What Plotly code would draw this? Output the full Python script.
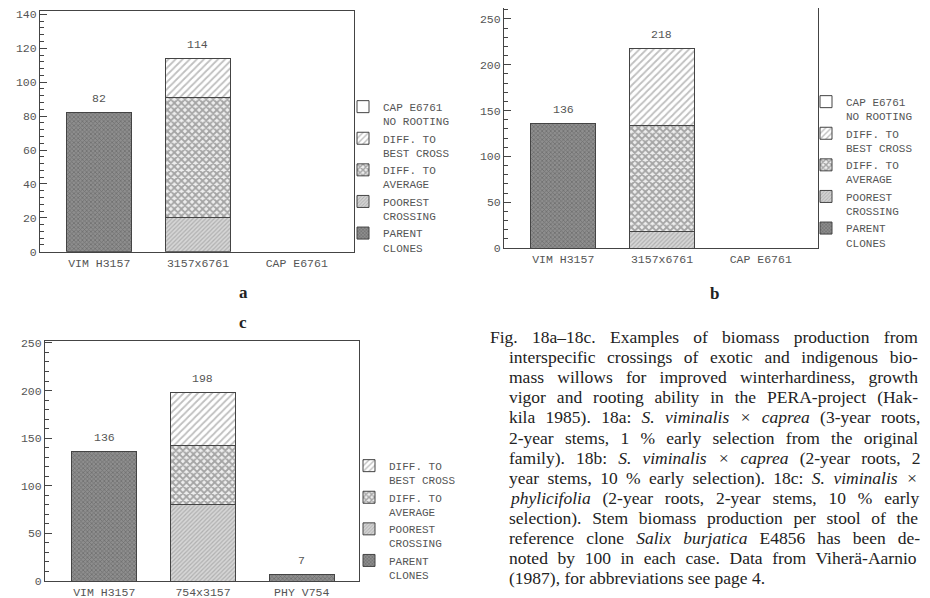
import re
import plotly.graph_objects as go

# ---------------- data ----------------
cats_a = ["VIM H3157", "3157x6761", "CAP E6761"]
a_parent = [82, None, None]
a_poorest = [None, 20, None]
a_avg = [None, 71, None]
a_best = [None, 23, None]
a_norooting = [None, None, None]
a_totals = [82, 114, None]

cats_b = ["VIM H3157", "3157x6761", "CAP E6761"]
b_parent = [136, None, None]
b_poorest = [None, 18, None]
b_avg = [None, 116, None]
b_best = [None, 84, None]
b_norooting = [None, None, None]
b_totals = [136, 218, None]

cats_c = ["VIM H3157", "754x3157", "PHY V754"]
c_parent = [136, None, 7]
c_poorest = [None, 80, None]
c_avg = [None, 62, None]
c_best = [None, 56, None]
c_totals = [136, 198, 7]

legend_names = {
    "norooting": "CAP E6761<br>NO ROOTING",
    "best": "DIFF. TO<br>BEST CROSS",
    "avg": "DIFF. TO<br>AVERAGE",
    "poorest": "POOREST<br>CROSSING",
    "parent": "PARENT<br>CLONES",
}

caption_lines = [
    "Fig. 18a–18c. Examples of biomass production from",
    "interspecific crossings of exotic and indigenous bio-",
    "mass willows for improved winterhardiness, growth",
    "vigor and rooting ability in the PERA-project (Hak-",
    "kila 1985). 18a: <i>S. viminalis × caprea</i> (3-year roots,",
    "2-year stems, 1 % early selection from the original",
    "family). 18b: <i>S. viminalis × caprea</i> (2-year roots, 2",
    "year stems, 10 % early selection). 18c: <i>S. viminalis ×</i>",
    "<i>phylicifolia</i> (2-year roots, 2-year stems, 10 % early",
    "selection). Stem biomass production per stool of the",
    "reference clone <i>Salix burjatica</i> E4856 has been de-",
    "noted by 100 in each case. Data from Viherä-Aarnio",
    "(1987), for abbreviations see page 4.",
]

# ---------------- styles ----------------
PLOT_FONT = "Liberation Mono"
TXT = "#555555"
EDGE = "#444444"
styles = {
    "parent": dict(color="#808080", pattern=dict(shape="x", size=3, solidity=0.45, fgcolor="#505050", bgcolor="#8e8e8e")),
    "poorest": dict(color="#c4c4c4", pattern=dict(shape="/", size=3, solidity=0.4, fgcolor="#8a8a8a", bgcolor="#d6d6d6")),
    "avg": dict(color="#a0a0a0", pattern=dict(shape="x", size=5, solidity=0.6, fgcolor="#5a5a5a", bgcolor="#eeeeee")),
    "best": dict(color="#e0e0e0", pattern=dict(shape="/", size=5, solidity=0.35, fgcolor="#808080", bgcolor="#ffffff")),
    "norooting": dict(color="#ffffff", pattern=dict(shape="")),
}

fig = go.Figure()

def add_panel(cats, series, totals, xa, ya, legend):
    for key, vals in series:
        st = styles[key]
        fig.add_trace(go.Bar(
            x=cats, y=vals, name=legend_names[key], legend=legend,
            xaxis=xa, yaxis=ya, width=0.66,
            marker=dict(color=st["color"], pattern=st["pattern"],
                        line=dict(color=EDGE, width=1)),
            hoverinfo="skip",
        ))
    for c, t in zip(cats, totals):
        if t is None:
            continue
        fig.add_annotation(x=c, y=t, xref=xa, yref=ya, text=str(t), showarrow=False,
                           yanchor="middle", yshift=14,
                           font=dict(family=PLOT_FONT, size=11.5, color=TXT))

add_panel(cats_a, [("parent", a_parent), ("poorest", a_poorest), ("avg", a_avg),
                   ("best", a_best), ("norooting", a_norooting)], a_totals, "x", "y", "legend")
add_panel(cats_b, [("parent", b_parent), ("poorest", b_poorest), ("avg", b_avg),
                   ("best", b_best), ("norooting", b_norooting)], b_totals, "x2", "y2", "legend2")
add_panel(cats_c, [("parent", c_parent), ("poorest", c_poorest), ("avg", c_avg),
                   ("best", c_best)], c_totals, "x3", "y3", "legend3")

# page body has an 8px margin: lay out in window pixels, offset by it
OFF = 8
W, H = 930 - OFF, 598 - OFF
def px(xp): return (xp - OFF) / W
def py(yp): return 1 - (yp - OFF) / H

def xaxis(domain, anchor):
    return dict(domain=domain, anchor=anchor, range=[-0.6, 2.58], showline=True, mirror=True,
                linecolor=EDGE, linewidth=1, ticks="", showgrid=False, zeroline=False,
                automargin=False,
                tickfont=dict(family=PLOT_FONT, size=11.5, color=TXT), fixedrange=True)

def yaxis(domain, anchor, rng, dtick, minor):
    return dict(domain=domain, anchor=anchor, range=rng, showline=True, mirror=True,
                linecolor=EDGE, linewidth=1, ticks="inside", ticklen=7, tickcolor=EDGE,
                dtick=dtick, tick0=0, showgrid=False, zeroline=False, automargin=False,
                minor=dict(dtick=minor, ticks="inside", ticklen=4, tickcolor=EDGE, showgrid=False),
                tickfont=dict(family=PLOT_FONT, size=11.5, color=TXT), fixedrange=True)

leg_common = dict(font=dict(family=PLOT_FONT, size=11, color=TXT), bgcolor="rgba(0,0,0,0)",
                  traceorder="reversed", valign="top", xanchor="left", yanchor="top",
                  itemclick=False, itemdoubleclick=False, tracegroupgap=0)

fig.update_layout(
    width=W, height=H, margin=dict(l=0, r=0, t=0, b=0, autoexpand=False),
    paper_bgcolor="white", plot_bgcolor="white", barmode="stack",
    xaxis=xaxis([px(40), px(354)], "y"),
    yaxis=yaxis([py(251.7), py(11)], "x", [0, 142], 20, 4),
    xaxis2=xaxis([px(504), px(818)], "y2"),
    yaxis2=yaxis([py(248), py(8)], "x2", [0, 262], 50, 10),
    xaxis3=xaxis([px(45), px(359)], "y3"),
    yaxis3=yaxis([py(581), py(341)], "x3", [0, 252], 50, 10),
    legend=dict(x=px(343), y=py(93), **leg_common),
    legend2=dict(x=px(806), y=py(88), **leg_common),
    legend3=dict(x=px(349), y=py(452), **leg_common),
)

# panel letters
for letter, xp, yp in [("a", 243, 292), ("b", 714, 293), ("c", 243, 322)]:
    fig.add_annotation(text=f"<b>{letter}</b>", x=px(xp), y=py(yp), xref="paper", yref="paper",
                       showarrow=False, xanchor="center", yanchor="middle",
                       font=dict(family="Liberation Serif", size=17, color="#222222"))

# caption (justified via word-spacing estimated from Times metrics)
TW = {" ": 250, ".": 250, ",": 250, "(": 333, ")": 333, "-": 333, "–": 500, "%": 833, ":": 278,
      "×": 564, "ä": 444}
TW.update({c: 500 for c in "0123456789"})
TW.update(dict(zip("abcdefghijklmnopqrstuvwxyz",
                   [444, 500, 444, 500, 444, 333, 500, 500, 278, 278, 500, 278, 778, 500, 500, 500,
                    500, 333, 389, 278, 500, 500, 722, 500, 500, 444])))
TW.update(dict(zip("ABCDEFGHIJKLMNOPQRSTUVWXYZ",
                   [722, 667, 667, 722, 611, 556, 722, 722, 333, 389, 722, 611, 889, 722, 722, 556,
                    722, 667, 556, 611, 722, 722, 944, 722, 722, 611])))
CAP_SIZE = 17.5
RENDER_FACTOR = 1.022   # rendered text is a little wider than the nominal metrics
RIGHT = 924
y0, dy = 337, 20.1
for i, line in enumerate(caption_lines):
    xp = 488 if i == 0 else 507
    plain = re.sub(r"<[^>]+>", "", line)
    natural = sum(TW.get(ch, 500) for ch in plain) * CAP_SIZE / 1000 * RENDER_FACTOR
    nsp = plain.count(" ")
    text = line
    if i < len(caption_lines) - 1 and nsp:
        ws = max(0.0, (RIGHT - xp - natural) / nsp)
        text = f'<span style="word-spacing:{ws:.2f}px">{line}</span>'
    fig.add_annotation(text=text, x=px(xp), y=py(y0 + i * dy), xref="paper", yref="paper",
                       showarrow=False, xanchor="left", yanchor="middle",
                       font=dict(family="Liberation Serif", size=CAP_SIZE, color="#222222"))

fig.write_html("out.html")
